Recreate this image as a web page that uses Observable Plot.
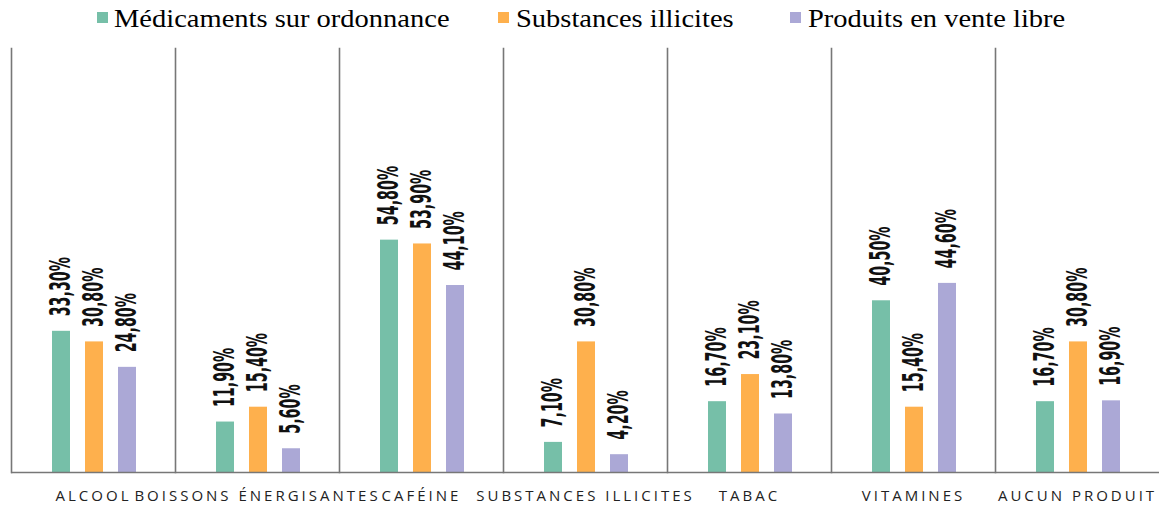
<!DOCTYPE html>
<html>
<head>
<meta charset="utf-8">
<script src="https://cdn.jsdelivr.net/npm/d3@7"></script>
<script src="https://cdn.jsdelivr.net/npm/@observablehq/plot@0.6"></script>
<style>
  html, body { margin: 0; padding: 0; background: #fff; }
  #legend { height: 38px; position: relative; font-family: "Liberation Serif", "Times New Roman", serif; font-size: 25px; color: #000; }
  .sw { position: absolute; top: 12px; width: 11px; height: 11px; display: block; }
  .lt { position: absolute; top: 4px; white-space: nowrap; transform-origin: 0 50%; line-height: 30px; }
  g[aria-label="fx-axis tick label"] text { letter-spacing: 3px; }
</style>
</head>
<body>
<div id="legend"></div>
<div id="chart"></div>
<script>
const categories = ["ALCOOL", "BOISSONS ÉNERGISANTES", "CAFÉINE", "SUBSTANCES ILLICITES", "TABAC", "VITAMINES", "AUCUN PRODUIT"];
const series = ["Médicaments sur ordonnance", "Substances illicites", "Produits en vente libre"];
const colors = ["#76BFA8", "#FEB04D", "#ABA8D6"];
const prescription = [33.3, 11.9, 54.8, 7.1, 16.7, 40.5, 16.7];
const illicit = [30.8, 15.4, 53.9, 30.8, 23.1, 15.4, 30.8];
const otc = [24.8, 5.6, 44.1, 4.2, 13.8, 44.6, 16.9];

const valuesBySeries = [prescription, illicit, otc];
const data = [];
categories.forEach((c, i) => {
  series.forEach((s, j) => data.push({cat: c, series: s, value: valuesBySeries[j][i]}));
});

const fmt = v => v.toFixed(2).replace(".", ",") + "%";

// legend
const swatchX = [97, 498, 790];
const textX = [114, 516, 808];
const legend = document.getElementById("legend");
series.forEach((s, j) => {
  const sw = document.createElement("span");
  sw.className = "sw";
  sw.style.left = swatchX[j] + "px";
  sw.style.background = colors[j];
  legend.appendChild(sw);
  const t = document.createElement("span");
  t.className = "lt";
  t.style.left = textX[j] + "px";
  t.style.transform = "scaleX(1.14)";
  t.textContent = s;
  legend.appendChild(t);
});

const chart = Plot.plot({
  width: 1161,
  height: 468,
  marginLeft: 9,
  marginRight: 0,
  marginTop: 10,
  marginBottom: 34,
  fx: {domain: categories, padding: 0, label: null},
  x: {domain: series, paddingInner: 0.456, paddingOuter: 1.148, align: 0.51, axis: null},
  y: {domain: [0, 100], axis: null},
  color: {domain: series, range: colors},
  marks: [
    Plot.frame({anchor: "left", stroke: "#777", strokeWidth: 1.6}),
    Plot.barY(data, {fx: "cat", x: "series", y: "value", fill: "series"}),
    Plot.ruleY([0], {stroke: "#777", strokeWidth: 1.6}),
    Plot.text(data, {
      fx: "cat", x: "series", y: "value", text: d => fmt(d.value),
      rotate: -90, textAnchor: "start", lineAnchor: "middle", dy: -15,
      fontSize: 24, fontWeight: "bold", fontFamily: "'DejaVu Sans Condensed', sans-serif",
      fill: "#111"
    }),
    Plot.axisFx({anchor: "bottom", tickSize: 0, tickPadding: 18, fontSize: 15, fontFamily: "'Open Sans', sans-serif", fill: "#222", label: null})
  ]
});
chart.querySelectorAll('g[aria-label="text"] text').forEach(t => {
  const tr = t.getAttribute("transform") || "";
  t.setAttribute("transform", tr + " scale(0.66,1.15)");
});
document.getElementById("chart").appendChild(chart);
</script>
</body>
</html>
